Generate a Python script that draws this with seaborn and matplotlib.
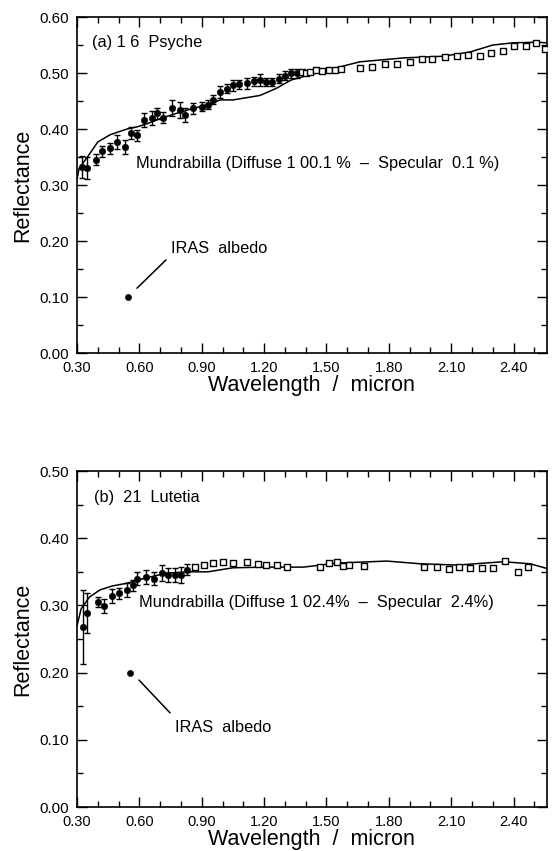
import matplotlib
matplotlib.use("Agg")
import matplotlib.pyplot as plt
import seaborn as sns
import numpy as np
import pandas as pd
from matplotlib.ticker import MultipleLocator, FormatStrFormatter

sns.set_style("ticks")
plt.rcParams['font.family'] = ['Liberation Sans', 'DejaVu Sans']
plt.rcParams['text.color'] = 'black'
plt.rcParams['axes.labelcolor'] = 'black'
plt.rcParams['xtick.color'] = 'black'
plt.rcParams['ytick.color'] = 'black'

# ---------- Panel (a) 16 Psyche ----------
psy_err_wl = [0.324, 0.348, 0.39, 0.42, 0.46, 0.49, 0.53, 0.56, 0.59, 0.62, 0.66, 0.685,
              0.714, 0.757, 0.796, 0.82, 0.86, 0.90, 0.93, 0.955, 0.99, 1.02, 1.05, 1.08,
              1.12, 1.15, 1.18, 1.21, 1.24, 1.27, 1.30, 1.33, 1.36]
psy_err_r = [0.332, 0.33, 0.345, 0.36, 0.366, 0.377, 0.368, 0.393, 0.389, 0.416, 0.42, 0.428,
             0.42, 0.4375, 0.434, 0.425, 0.437, 0.44, 0.443, 0.452, 0.466, 0.472, 0.478, 0.48,
             0.482, 0.485, 0.4875, 0.484, 0.484, 0.49, 0.495, 0.50, 0.50]
psy_err_e = [0.02, 0.02, 0.01, 0.01, 0.01, 0.012, 0.012, 0.01, 0.01, 0.012, 0.012, 0.01,
             0.01, 0.015, 0.015, 0.012, 0.01, 0.008, 0.008, 0.008, 0.01, 0.008, 0.01, 0.008,
             0.01, 0.008, 0.01, 0.008, 0.008, 0.008, 0.008, 0.008, 0.008]
psy_sq_wl = [1.38, 1.40, 1.42, 1.45, 1.48, 1.51, 1.54, 1.57, 1.66, 1.72, 1.78, 1.84, 1.90,
             1.96, 2.01, 2.07, 2.13, 2.18, 2.24, 2.29, 2.35, 2.40, 2.46, 2.51, 2.55]
psy_sq_r = [0.502, 0.500, 0.502, 0.505, 0.503, 0.506, 0.505, 0.508, 0.509, 0.511, 0.516,
            0.516, 0.52, 0.525, 0.525, 0.528, 0.53, 0.532, 0.53, 0.536, 0.539, 0.548, 0.548,
            0.554, 0.543]
psy_mod_wl = [0.30, 0.31, 0.35, 0.40, 0.46, 0.54, 0.59, 0.64, 0.71, 0.83, 0.925, 0.99,
              1.05, 1.18, 1.23, 1.26, 1.33, 1.47, 1.66, 1.87, 2.06, 2.19, 2.30, 2.40, 2.51, 2.56]
psy_mod_r = [0.31, 0.33, 0.35, 0.377, 0.39, 0.40, 0.404, 0.41, 0.42, 0.434, 0.443, 0.452,
             0.452, 0.46, 0.468, 0.473, 0.4875, 0.502, 0.52, 0.527, 0.53, 0.5375, 0.55,
             0.554, 0.555, 0.554]
psy_iras_wl = [0.545]
psy_iras_r = [0.10]

# ---------- Panel (b) 21 Lutetia ----------
lut_err_wl = [0.33, 0.35, 0.40, 0.43, 0.47, 0.50, 0.54, 0.57, 0.59, 0.63, 0.67, 0.71,
              0.74, 0.77, 0.80, 0.83]
lut_err_r = [0.268, 0.289, 0.305, 0.299, 0.314, 0.318, 0.323, 0.33, 0.34, 0.342, 0.34,
             0.348, 0.345, 0.345, 0.345, 0.353]
lut_err_e = [0.055, 0.03, 0.008, 0.01, 0.01, 0.008, 0.01, 0.008, 0.01, 0.01, 0.01, 0.012,
             0.01, 0.01, 0.012, 0.008]
lut_sq_wl = [0.87, 0.91, 0.955, 1.0, 1.05, 1.12, 1.17, 1.21, 1.26, 1.31, 1.47, 1.51, 1.55,
             1.58, 1.61, 1.68, 1.97, 2.03, 2.09, 2.14, 2.19, 2.25, 2.30, 2.36, 2.42, 2.47]
lut_sq_r = [0.357, 0.36, 0.363, 0.365, 0.363, 0.365, 0.362, 0.36, 0.36, 0.357, 0.357, 0.363,
            0.365, 0.359, 0.36, 0.359, 0.357, 0.357, 0.354, 0.357, 0.356, 0.356, 0.356,
            0.366, 0.35, 0.357]
lut_mod_wl = [0.30, 0.32, 0.36, 0.41, 0.47, 0.54, 0.62, 0.73, 0.83, 0.93, 1.05, 1.21, 1.39,
              1.55, 1.71, 1.79, 1.95, 2.13, 2.26, 2.35, 2.48, 2.56]
lut_mod_r = [0.27, 0.295, 0.3125, 0.323, 0.329, 0.333, 0.34, 0.348, 0.35, 0.35, 0.356,
             0.357, 0.357, 0.363, 0.365, 0.366, 0.362, 0.36, 0.363, 0.365, 0.362, 0.355]
lut_iras_wl = [0.555]
lut_iras_r = [0.20]

xticks = [0.30, 0.60, 0.90, 1.20, 1.50, 1.80, 2.10, 2.40]

fig = plt.figure(figsize=(5.54, 8.51), dpi=100)
ax1 = fig.add_axes([0.139, 0.585, 0.848, 0.395])
ax2 = fig.add_axes([0.139, 0.0517, 0.848, 0.3948])


def draw(ax, err_wl, err_r, err_e, sq_wl, sq_r, mod_wl, mod_r, iras_wl, iras_r, ymax):
    mod = pd.DataFrame({"wl": mod_wl, "r": mod_r})
    sns.lineplot(data=mod, x="wl", y="r", ax=ax, color="black", lw=1.1, sort=True)
    ax.errorbar(err_wl, err_r, yerr=err_e, fmt="none", ecolor="black", elinewidth=1.0,
                capsize=2.5, capthick=1.0, zorder=3)
    sns.scatterplot(x=err_wl, y=err_r, ax=ax, marker="o", s=22, color="black",
                    edgecolor="black", zorder=4)
    sns.scatterplot(x=sq_wl, y=sq_r, ax=ax, marker="s", s=16, facecolor="white",
                    edgecolor="black", linewidth=1.0, zorder=4)
    sns.scatterplot(x=iras_wl, y=iras_r, ax=ax, marker="o", s=20, color="black",
                    edgecolor="black", zorder=4)
    ax.set_xlim(0.30, 2.56)
    ax.set_ylim(0.0, ymax)
    ax.set_xticks(xticks)
    ax.xaxis.set_major_formatter(FormatStrFormatter("%.2f"))
    ax.xaxis.set_minor_locator(MultipleLocator(0.1))
    ax.yaxis.set_major_locator(MultipleLocator(0.1))
    ax.yaxis.set_minor_locator(MultipleLocator(0.05))
    ax.yaxis.set_major_formatter(FormatStrFormatter("%.2f"))
    ax.tick_params(which="both", direction="in", top=True, right=True,
                   width=1.0, color="black", labelcolor="black")
    ax.tick_params(axis="x", which="major", labelsize=10.5, pad=6)
    ax.tick_params(axis="y", which="major", labelsize=11, pad=6)
    ax.tick_params(which="major", length=7)
    ax.tick_params(which="minor", length=4)
    for s in ax.spines.values():
        s.set_visible(True)
        s.set_linewidth(1.2)
        s.set_color("black")
    ax.set_xlabel("Wavelength  /  micron", fontsize=15.5, labelpad=0, color="black")
    ax.set_ylabel("Reflectance", fontsize=15.5, labelpad=4, color="black")


draw(ax1, psy_err_wl, psy_err_r, psy_err_e, psy_sq_wl, psy_sq_r, psy_mod_wl, psy_mod_r,
     psy_iras_wl, psy_iras_r, 0.60)
draw(ax2, lut_err_wl, lut_err_r, lut_err_e, lut_sq_wl, lut_sq_r, lut_mod_wl, lut_mod_r,
     lut_iras_wl, lut_iras_r, 0.50)

fs = 11.8
ax1.text(0.37, 0.554, "(a) 1 6  Psyche", fontsize=fs, va="center", ha="left", color="black")
ax1.text(0.585, 0.339, "Mundrabilla (Diffuse 1 00.1 %  \u2013  Specular  0.1 %)", fontsize=fs,
         va="center", ha="left", color="black")
ax1.text(0.75, 0.1875, "IRAS  albedo", fontsize=fs, va="center", ha="left", color="black")
ax1.annotate("", xy=(0.579, 0.1125), xytext=(0.738, 0.17),
             arrowprops=dict(arrowstyle="-", color="black", lw=1.1))

ax2.text(0.38, 0.461, "(b)  21  Lutetia", fontsize=fs, va="center", ha="left", color="black")
ax2.text(0.60, 0.304, "Mundrabilla (Diffuse 1 02.4%  \u2013  Specular  2.4%)", fontsize=fs,
         va="center", ha="left", color="black")
ax2.text(0.77, 0.119, "IRAS  albedo", fontsize=fs, va="center", ha="left", color="black")
ax2.annotate("", xy=(0.589, 0.192), xytext=(0.757, 0.137),
             arrowprops=dict(arrowstyle="-", color="black", lw=1.1))

fig.savefig("out.png", dpi=100, facecolor="white")
